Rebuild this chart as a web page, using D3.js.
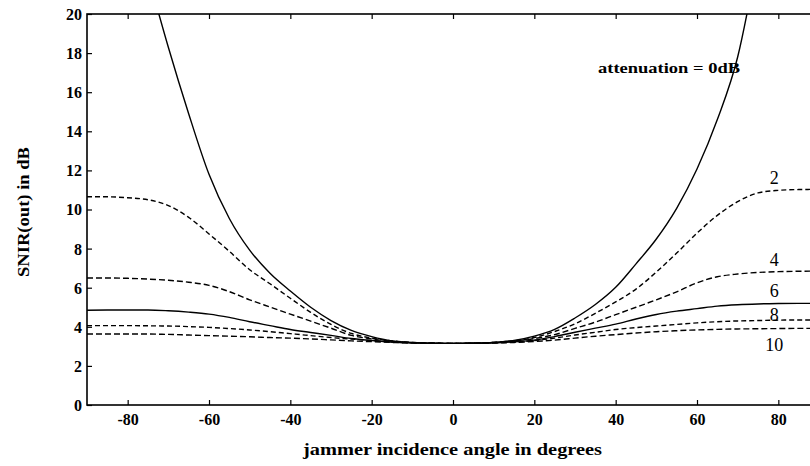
<!DOCTYPE html>
<html><head><meta charset="utf-8">
<script src="https://cdn.jsdelivr.net/npm/d3@7"></script>
<style>body{margin:0;background:#fff}svg{display:block}
svg text{font-family:"Liberation Serif","Times New Roman",serif;}
</style>
</head><body>
<svg id="c" width="810" height="466"></svg>
<script>
// ---- data ----
const anglesFull = [-90,-85,-80,-75,-70,-65,-60,-55,-50,-45,-40,-35,-30,-25,-20,-15,-10,-5,0,5,10,15,20,25,30,35,40,45,50,55,60,65,70,75,80,85,90];
const angles0 = [-75,-70,-65,-60,-55,-50,-45,-40,-35,-30,-25,-20,-15,-10,-5,0,5,10,15,20,25,30,35,40,45,50,55,60,65,70,75];
const snir0  = [22.0,18.3,14.9,11.8,9.54,7.92,6.74,5.83,5.0,4.32,3.82,3.5,3.28,3.2,3.16,3.15,3.16,3.2,3.3,3.52,3.87,4.45,5.14,6.02,7.22,8.49,10.06,12.07,14.6,17.8,23.0];
const snir2  = [10.65,10.65,10.6,10.5,10.2,9.6,8.75,7.86,6.92,6.2,5.46,4.74,4.12,3.66,3.42,3.28,3.2,3.16,3.15,3.16,3.2,3.28,3.45,3.76,4.15,4.69,5.27,5.93,6.8,7.77,8.79,9.7,10.4,10.85,10.98,11.02,11.03];
const snir4  = [6.5,6.5,6.48,6.44,6.38,6.28,6.12,5.8,5.38,5.01,4.65,4.29,3.93,3.56,3.38,3.26,3.19,3.16,3.15,3.16,3.2,3.28,3.4,3.6,3.92,4.24,4.62,5.0,5.38,5.79,6.25,6.56,6.7,6.78,6.82,6.84,6.85];
const snir6  = [4.85,4.86,4.86,4.86,4.82,4.75,4.65,4.48,4.26,4.06,3.86,3.71,3.56,3.4,3.3,3.22,3.18,3.16,3.15,3.16,3.18,3.23,3.32,3.5,3.72,3.93,4.14,4.4,4.63,4.8,4.93,5.06,5.13,5.17,5.19,5.2,5.2];
const snir8  = [4.06,4.06,4.06,4.05,4.04,4.01,3.97,3.91,3.84,3.75,3.65,3.55,3.45,3.37,3.3,3.22,3.18,3.16,3.15,3.16,3.18,3.22,3.3,3.42,3.58,3.72,3.86,3.96,4.04,4.12,4.2,4.26,4.3,4.32,4.34,4.35,4.35];
const snir10 = [3.63,3.63,3.63,3.63,3.61,3.58,3.55,3.52,3.49,3.45,3.42,3.38,3.33,3.28,3.24,3.2,3.17,3.16,3.15,3.16,3.17,3.2,3.25,3.32,3.42,3.52,3.6,3.68,3.75,3.8,3.84,3.87,3.89,3.9,3.91,3.92,3.92];
const xTicks = [-80,-60,-40,-20,0,20,40,60,80];
const yTicks = [0,2,4,6,8,10,12,14,16,18,20];
const curveLabels = ["2","4","6","8","10"];
const curveLabelAt = [[79,11.0],[79,6.8],[79,5.2],[79,4.3],[79,3.5]];
const mainLabel = "attenuation = 0dB";
const xTitle = "jammer incidence angle in degrees";
const yTitle = "SNIR(out) in dB";

// ---- layout ----
const svg = d3.select("#c");
const L = 87, R = 819, T = 14, B = 405;
const x = d3.scaleLinear().domain([-90,90]).range([L,R]);
const y = d3.scaleLinear().domain([0,20]).range([B,T]);
const serif = "'Liberation Serif','Times New Roman',serif";

svg.append("defs").append("clipPath").attr("id","clip")
  .append("rect").attr("x",L).attr("y",T).attr("width",R-L).attr("height",B-T);

// frame
svg.append("rect").attr("x",L).attr("y",T).attr("width",R-L).attr("height",B-T)
  .attr("fill","none").attr("stroke","#000").attr("stroke-width",1.6);

// axes
const xAx = svg.append("g").attr("transform",`translate(0,${B})`)
  .call(d3.axisBottom(x).tickValues(xTicks).tickSize(-5).tickPadding(9).tickFormat(d3.format("d")));
const xTop = svg.append("g").attr("transform",`translate(0,${T})`)
  .call(d3.axisTop(x).tickValues(xTicks).tickSize(-5).tickFormat(""));
const yAx = svg.append("g").attr("transform",`translate(${L},0)`)
  .call(d3.axisLeft(y).tickValues(yTicks).tickSize(-5).tickPadding(5).tickFormat(d3.format("d")));
[xAx,xTop,yAx].forEach(g=>{
  g.attr("font-family",serif);
  g.select(".domain").remove();
  g.selectAll(".tick line").attr("stroke","#000").attr("stroke-width",1.2);
  g.selectAll("text").style("font-family",serif).style("font-weight","bold")
    .style("font-size","16px").attr("fill","#000");
});
xAx.selectAll("text").text(d=>d<0?"-"+Math.abs(d):d);
yAx.selectAll("text").attr("dy","0.34em");

// series
const line = d3.line().x(d=>x(d[0])).y(d=>y(d[1])).curve(d3.curveMonotoneX);
const series = [
  {a:angles0, v:snir0, dash:null},
  {a:anglesFull, v:snir2, dash:"5,3"},
  {a:anglesFull, v:snir4, dash:"6,3"},
  {a:anglesFull, v:snir6, dash:null},
  {a:anglesFull, v:snir8, dash:"5,3"},
  {a:anglesFull, v:snir10, dash:"6,3"}
];
const gl = svg.append("g").attr("clip-path","url(#clip)");
series.forEach(s=>{
  gl.append("path").datum(s.a.map((a,i)=>[a,s.v[i]]))
    .attr("d",line).attr("fill","none").attr("stroke","#000")
    .attr("stroke-width",1.4).attr("stroke-dasharray",s.dash);
});

// curve labels
curveLabels.forEach((t,i)=>{
  svg.append("text").attr("x",x(curveLabelAt[i][0])).attr("y",y(curveLabelAt[i][1]))
    .attr("dy", i===4 ? 14 : (i===3 ? 0 : -6))
    .attr("text-anchor","middle").style("font-family",serif).style("font-size","18px")
    .attr("fill","#000").text(t);
});
svg.append("text").attr("x",598).attr("y",73).style("font-family",serif)
  .style("font-weight","bold").style("font-size","15px").attr("textLength",142)
  .attr("lengthAdjust","spacingAndGlyphs").attr("fill","#000").text(mainLabel);

// titles
svg.append("text").attr("x",303).attr("y",455).style("font-family",serif)
  .style("font-weight","bold").style("font-size","17px").attr("textLength",299)
  .attr("lengthAdjust","spacingAndGlyphs").attr("fill","#000").text(xTitle);
svg.append("text").attr("transform","translate(29,277) rotate(-90)")
  .style("font-family",serif).style("font-weight","bold").style("font-size","17px")
  .attr("textLength",130).attr("lengthAdjust","spacingAndGlyphs").attr("fill","#000").text(yTitle);
</script>
</body></html>
